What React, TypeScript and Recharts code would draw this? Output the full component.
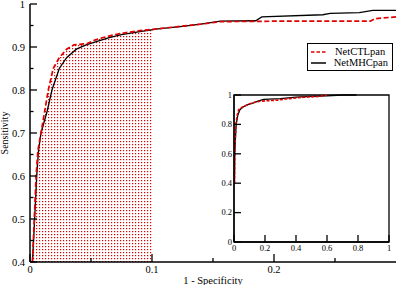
import React from 'react';
import { ComposedChart, LineChart, Line, Area, XAxis, YAxis, Legend, ReferenceArea } from 'recharts';

// ---- main panel data (1 - specificity, sensitivity) ----
const ctlFpr = [0.002, 0.0035, 0.005, 0.0065, 0.009, 0.012, 0.015, 0.019, 0.024, 0.030, 0.036, 0.047, 0.053, 0.060, 0.070, 0.080, 0.090, 0.100, 0.120, 0.140, 0.156, 0.200, 0.279, 0.283, 0.300];
const ctlTpr = [0.40, 0.50, 0.60, 0.66, 0.70, 0.75, 0.80, 0.85, 0.875, 0.895, 0.905, 0.908, 0.916, 0.922, 0.929, 0.934, 0.938, 0.941, 0.947, 0.953, 0.959, 0.960, 0.960, 0.966, 0.970];
const mhcFpr = [0.002, 0.0038, 0.0055, 0.007, 0.009, 0.014, 0.018, 0.024, 0.030, 0.038, 0.046, 0.055, 0.065, 0.075, 0.090, 0.105, 0.125, 0.140, 0.156, 0.185, 0.190, 0.240, 0.246, 0.270, 0.281, 0.300];
const mhcTpr = [0.40, 0.50, 0.60, 0.66, 0.70, 0.75, 0.80, 0.85, 0.875, 0.895, 0.905, 0.913, 0.922, 0.929, 0.936, 0.942, 0.948, 0.953, 0.960, 0.961, 0.970, 0.975, 0.978, 0.980, 0.985, 0.985];

// ---- inset data (full range) ----
const insetCtlFpr = [0.003, 0.005, 0.008, 0.012, 0.02, 0.03, 0.05, 0.08, 0.10, 0.15, 0.20, 0.28, 0.35, 0.45, 0.55, 0.60];
const insetCtlTpr = [0.40, 0.60, 0.70, 0.80, 0.86, 0.90, 0.915, 0.93, 0.94, 0.955, 0.96, 0.965, 0.975, 0.985, 0.99, 1.0];
const insetMhcFpr = [0.003, 0.005, 0.009, 0.014, 0.024, 0.038, 0.06, 0.09, 0.12, 0.16, 0.19, 0.30, 0.40, 0.50, 0.60, 0.70, 0.79];
const insetMhcTpr = [0.40, 0.60, 0.70, 0.80, 0.86, 0.90, 0.92, 0.935, 0.945, 0.96, 0.97, 0.975, 0.985, 0.99, 0.995, 1.0, 1.0];

const shadeLimit = 0.1;
const mainXTicks = [0, 0.05, 0.1, 0.15, 0.2, 0.25];
const mainYTicks = [0.4, 0.45, 0.5, 0.55, 0.6, 0.65, 0.7, 0.75, 0.8, 0.85, 0.9, 0.95, 1];
const insetTicks = [0, 0.2, 0.4, 0.6, 0.8, 1];
const seriesNames = ['NetCTLpan', 'NetMHCpan'];
const xLabel = '1 - Specificity';
const yLabel = 'Sensitivity';

const RED = '#e00000';
const BLACK = '#000000';
const FONT = '"Liberation Serif", "Times New Roman", Times, serif';
const seriesStyles = [
  { color: RED, dash: '5 2.5' },
  { color: BLACK, dash: undefined as string | undefined },
];

const zip = (xs: number[], ys: number[]) => xs.map((x, i) => ({ x, y: ys[i] }));
const ctlData = zip(ctlFpr, ctlTpr);
const mhcData = zip(mhcFpr, mhcTpr);
const shadeData = ctlData.filter((d) => d.x <= shadeLimit + 1e-9);
const insetCtl = zip(insetCtlFpr, insetCtlTpr);
const insetMhc = zip(insetMhcFpr, insetMhcTpr);

const isMajor = (v: number, step: number) => Math.abs(Math.round(v / step) * step - v) < 1e-6;
const fmt = (v: number) => String(Math.round(v * 100) / 100);
const textStyle = { fill: BLACK, stroke: 'none' };

const MainYTick = (props: any) => {
  const { x, y, payload } = props;
  const v = payload.value;
  const major = isMajor(v, 0.1);
  return (
    <g>
      <line x1={x} x2={x + (major ? 7 : 3.5)} y1={y} y2={y} stroke={BLACK} strokeWidth={1.3} />
      {major && (
        <text x={x - 5} y={y} dy={3.8} textAnchor="end" fontSize={10.5} fontFamily={FONT} style={textStyle}>
          {fmt(v)}
        </text>
      )}
    </g>
  );
};

const MainXTick = (props: any) => {
  const { x, y, payload } = props;
  const v = payload.value;
  const major = isMajor(v, 0.1);
  return (
    <g>
      <line x1={x} x2={x} y1={y} y2={y - (major ? 8 : 4)} stroke={BLACK} strokeWidth={1.3} />
      {major && (
        <text x={x} y={y + 11} textAnchor="middle" fontSize={10.5} fontFamily={FONT} style={textStyle}>
          {fmt(v)}
        </text>
      )}
    </g>
  );
};

const InsetYTick = (props: any) => {
  const { x, y, payload } = props;
  return (
    <g>
      <line x1={x} x2={x + 7} y1={y} y2={y} stroke={BLACK} strokeWidth={1.3} />
      <text x={x - 2} y={y} dy={2.8} textAnchor="end" fontSize={8.5} fontFamily={FONT} style={textStyle}>
        {fmt(payload.value)}
      </text>
    </g>
  );
};

const InsetXTick = (props: any) => {
  const { x, y, payload } = props;
  return (
    <g>
      <line x1={x} x2={x} y1={y} y2={y - 7} stroke={BLACK} strokeWidth={1.3} />
      <text x={x} y={y + 9} textAnchor="middle" fontSize={8.5} fontFamily={FONT} style={textStyle}>
        {fmt(payload.value)}
      </text>
    </g>
  );
};

const LegendBox = () => (
  <div
    style={{
      border: '1px solid #000',
      background: '#fff',
      padding: '2px 4px 2px 2px',
      fontFamily: FONT,
      fontSize: 10.5,
      lineHeight: '11px',
      width: 78,
    }}
  >
    {seriesNames.map((name, i) => (
      <div key={name} style={{ display: 'flex', alignItems: 'center', height: 11 }}>
        <svg width={22} height={8} style={{ marginRight: 3 }}>
          <line
            x1={1}
            x2={16}
            y1={4}
            y2={4}
            stroke={seriesStyles[i].color}
            strokeWidth={1.5}
            strokeDasharray={seriesStyles[i].dash ? '3.5 2' : undefined}
          />
        </svg>
        <span style={{ color: BLACK }}>{name}</span>
      </div>
    ))}
  </div>
);

export default function App() {
  return (
    <div style={{ position: 'absolute', left: 0, top: 0, width: 397, height: 285, background: '#fff' }}>
      <ComposedChart width={397} height={285} margin={{ top: 4, right: 1, bottom: 0, left: 0 }}>
        <defs>
          <pattern id="dots" width={3} height={3} patternUnits="userSpaceOnUse">
            <rect x={0} y={0} width={1.2} height={1.2} fill={RED} />
          </pattern>
        </defs>
        <XAxis
          type="number"
          dataKey="x"
          domain={[0, 0.3]}
          ticks={mainXTicks}
          interval={0}
          allowDataOverflow
          height={23}
          tickSize={0}
          tickMargin={0}
          tickLine={false}
          tick={<MainXTick />}
          axisLine={{ stroke: BLACK, strokeWidth: 1.5 }}
          label={{ value: xLabel, position: 'insideBottom', offset: 1, fontSize: 10.5, fontFamily: FONT, fill: BLACK }}
        />
        <YAxis
          type="number"
          dataKey="y"
          domain={[0.4, 1]}
          ticks={mainYTicks}
          interval={0}
          allowDataOverflow
          width={30}
          tickSize={0}
          tickMargin={0}
          tickLine={false}
          tick={<MainYTick />}
          axisLine={{ stroke: BLACK, strokeWidth: 1.5 }}
          label={{ value: yLabel, angle: -90, position: 'insideLeft', offset: 4, fontSize: 10, fontFamily: FONT, fill: BLACK, style: { textAnchor: 'middle' } }}
        />
        <Area
          data={shadeData}
          dataKey="y"
          type="linear"
          stroke="none"
          fill="url(#dots)"
          fillOpacity={1}
          legendType="none"
          isAnimationActive={false}
        />
        <Line
          data={mhcData}
          dataKey="y"
          name={seriesNames[1]}
          type="linear"
          stroke={seriesStyles[1].color}
          strokeWidth={1.3}
          dot={false}
          isAnimationActive={false}
        />
        <Line
          data={ctlData}
          dataKey="y"
          name={seriesNames[0]}
          type="linear"
          stroke={seriesStyles[0].color}
          strokeWidth={1.7}
          strokeDasharray={seriesStyles[0].dash}
          dot={false}
          isAnimationActive={false}
        />
        <Legend
          layout="horizontal"
          verticalAlign="middle"
          align="center"
          content={() => <LegendBox />}
          wrapperStyle={{ left: 307, top: 43, width: 'auto', height: 'auto' }}
        />
      </ComposedChart>
      <div style={{ position: 'absolute', left: 214, top: 85 }}>
        <LineChart width={180} height={172} margin={{ top: 10, right: 5, bottom: 0, left: 0 }}>
          <XAxis
            type="number"
            dataKey="x"
            domain={[0, 1]}
            ticks={insetTicks}
            interval={0}
            height={15}
            tickSize={0}
            tickMargin={0}
            tickLine={false}
            tick={<InsetXTick />}
            axisLine={{ stroke: BLACK, strokeWidth: 1.3 }}
          />
          <YAxis
            type="number"
            dataKey="y"
            domain={[0, 1]}
            ticks={insetTicks}
            interval={0}
            width={20}
            tickSize={0}
            tickMargin={0}
            tickLine={false}
            tick={<InsetYTick />}
            axisLine={{ stroke: BLACK, strokeWidth: 1.3 }}
          />
          <ReferenceArea x1={0} x2={1} y1={0} y2={1} fill="none" stroke={BLACK} strokeWidth={1.3} ifOverflow="visible" />
          <Line data={insetMhc} dataKey="y" type="linear" stroke={BLACK} strokeWidth={1.3} dot={false} isAnimationActive={false} />
          <Line data={insetCtl} dataKey="y" type="linear" stroke={RED} strokeWidth={1.6} strokeDasharray="3 1.5" dot={false} isAnimationActive={false} />
        </LineChart>
      </div>
    </div>
  );
}
